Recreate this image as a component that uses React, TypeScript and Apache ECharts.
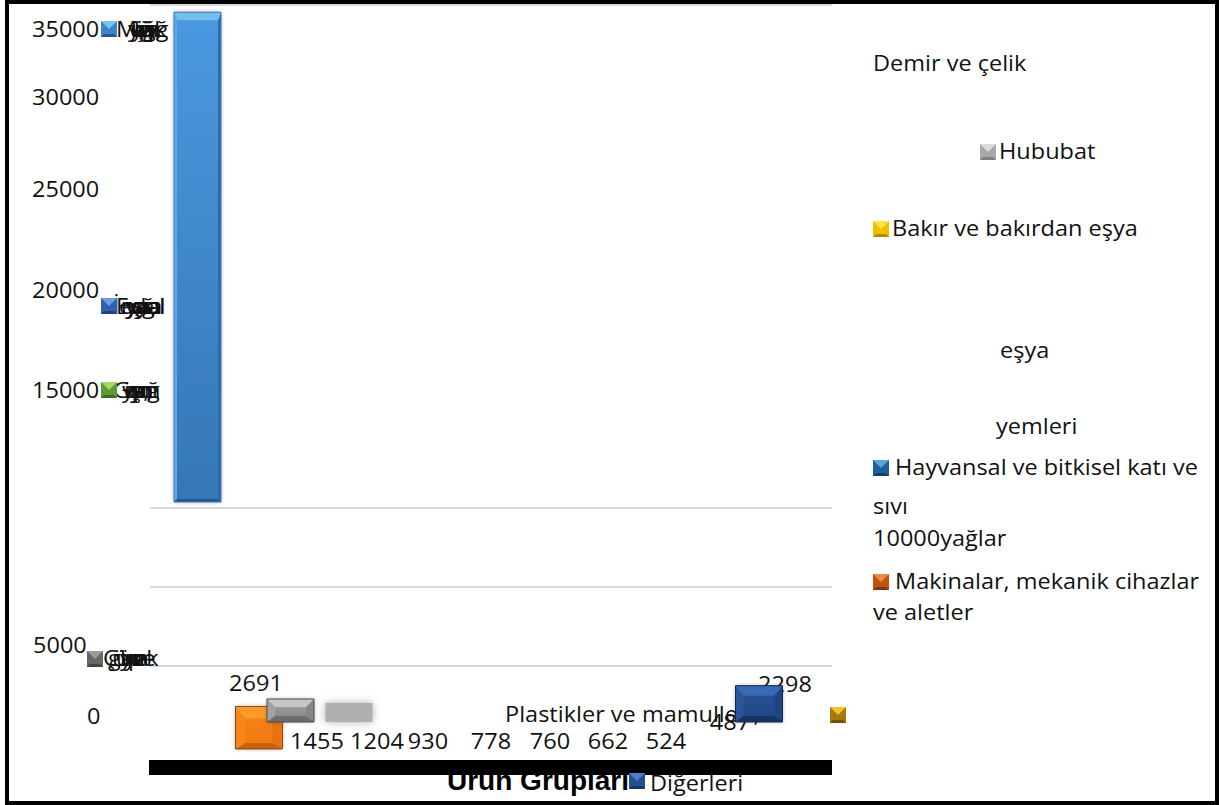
import React, { useEffect, useRef } from "react";
import * as echarts from "echarts";

const categories = [
  "Mineral yakıtlar", "Makinalar, mekanik cihazlar ve aletler", "Demir ve çelik", "Hububat",
  "Bakır ve bakırdan eşya", "Demir veya çelikten eşya", "Hayvan yemleri",
  "Hayvansal ve bitkisel katı ve sıvı yağlar", "Giyim eşyası", "Plastikler ve mamulleri", "Diğerleri",
];
const values = [31000, 2691, 1455, 1204, 930, 778, 760, 662, 524, 487, 2298];
const valueLabels = ["", "2691", "1455", "1204", "930", "778", "760", "662", "524", "487", "2298"];
const gridValues = [5000, 10000, 15000, 46835];
const AXIS_MAX = 46835;

// the picture's displaced bars: offset of each bar and its label from its natural slot
const barVisible = [1, 1, 1, 1, 0, 0, 0, 0, 0, 0, 1];
const barDx = [16.5, 16, -14.5, -18, 0, 0, 0, 0, 0, 0, -42];
const barLift = [15380, -253, 1456, 1456, 0, 0, 0, 0, 0, 0, 1456];
const labelDx = [0, 13, 12, 10, -1, 0, -3, -7, -11, -9, -16];
const labelDy = [0, -62, -4, -4, -4, -4, -4, -4, -4, -23, -61];
const blue = { top: "#74bdf0", left: "#5fa8e8", right: "#2f6aa6", bottom: "#25598c", line: "#3f78b4", a: "#4b98e0", b: "#3477b5", depth: 8, side: 3 };
const orange = { top: "#fd9a2c", left: "#f6851a", right: "#e8720f", bottom: "#c9620d", line: "#8a4a14", a: "#f78416", b: "#f07810", depth: 12, side: 10 };
const grey = { top: "#c6c6c6", left: "#a2a2a2", right: "#868686", bottom: "#6c6c6c", line: "#4e4e4e", a: "#a2a2a2", b: "#848484", depth: 8, side: 8 };
const navy = { top: "#3a68b2", left: "#2a5599", right: "#1e4580", bottom: "#163463", line: "#10294e", a: "#2a5499", b: "#1e4684", depth: 10, side: 8 };
const palettes: any[] = [blue, orange, grey, grey, grey, grey, grey, grey, grey, grey, navy];

const FONT = "'Open Sans'";
const FS = 21;
const STRETCH = 1.12;

const axisTexts = [
  { t: "35000", x: 32, y: 29 },
  { t: "30000", x: 32, y: 97 },
  { t: "25000", x: 32, y: 189 },
  { t: "20000", x: 32, y: 290 },
  { t: "15000", x: 32, y: 390 },
  { t: "5000", x: 33, y: 645 },
  { t: "0", x: 87, y: 716 },
];
const legendTexts = [
  { t: "Demir ve çelik", x: 873, y: 63 },
  { t: "Hububat", x: 999, y: 151 },
  { t: "Bakır ve bakırdan eşya", x: 892, y: 228 },
  { t: "eşya", x: 1000, y: 350 },
  { t: "yemleri", x: 996, y: 426 },
  { t: "Hayvansal ve bitkisel katı ve", x: 895, y: 467 },
  { t: "sıvı", x: 873, y: 506 },
  { t: "10000yağlar", x: 873, y: 538 },
  { t: "Makinalar, mekanik cihazlar", x: 895, y: 581 },
  { t: "ve aletler", x: 873, y: 612 },
  { t: "Plastikler ve mamulleri,", x: 505, y: 714 },
];
const swatches = [
  { x: 101, y: 21, top: "#7cc2f2", mid: "#3d85c8", bot: "#23598f" },
  { x: 101, y: 298, top: "#6f9be0", mid: "#3560b0", bot: "#20407c" },
  { x: 101, y: 382, top: "#a6d86a", mid: "#5f9a32", bot: "#3f6b1e" },
  { x: 87, y: 651, top: "#9a9a9a", mid: "#666666", bot: "#444444" },
  { x: 980, y: 144, top: "#dddddd", mid: "#a8a8a8", bot: "#808080" },
  { x: 873, y: 221, top: "#ffe14d", mid: "#f0bf00", bot: "#b08a00" },
  { x: 873, y: 460, top: "#58a5dd", mid: "#1f5f9c", bot: "#163f68" },
  { x: 873, y: 574, top: "#f08a3c", mid: "#c2530f", bot: "#7f360c" },
  { x: 830, y: 707, top: "#f2c230", mid: "#a57808", bot: "#6f5006" },
];
const overprints = [
  { y: 29, items: [["M", 116], ["ü", 130], ["ç", 134], ["ay", 133], ["ığ", 137], ["üş,", 130], ["yağ", 131], ["lük", 134], ["ğı", 140], ["ya", 128]] },
  { y: 306, items: [["İ", 113], ["Ev", 116], ["eş", 119], ["ya", 125], ["çı", 130], ["ya", 136], ["dal", 132], ["ğı", 142], ["ca", 138], ["ya,", 126], ["na", 121], ["el", 146]] },
  { y: 390, items: [["G", 113], ["iy", 124], ["çı", 128], ["ın", 133], ["ış,", 126], ["ağ", 134], ["ın", 140], ["ya,", 122], ["ım", 130], ["an", 126]] },
  { y: 658, items: [["Ç", 103], ["gı", 108], ["ür", 112], ["ün", 116], ["kı", 120], ["ya", 124], ["pe", 128], ["ek", 133], ["ya", 120], ["ın", 128]] },
];

function bevel(x: number, y: number, w: number, h: number, p: any, z2 = 0) {
  const r = x + w, d = y + h, t = p.depth, s = p.side, u = Math.min(p.side, 6);
  const fill = { type: "linear", x: 0, y: 0, x2: 0, y2: 1, colorStops: [{ offset: 0, color: p.a }, { offset: 1, color: p.b }] };
  const poly = (pts: number[][], c: string) => ({ type: "polygon", z2, shape: { points: pts }, style: { fill: c } });
  return [
    { type: "rect", z2, shape: { x, y, width: w, height: h }, style: { fill, shadowBlur: 4, shadowColor: "rgba(0,0,0,0.3)" } },
    poly([[x, y], [x + s, y + t], [x + s, d - u], [x, d]], p.left),
    poly([[r, y], [r - s, y + t], [r - s, d - u], [r, d]], p.right),
    poly([[x, d], [x + s, d - u], [r - s, d - u], [r, d]], p.bottom),
    poly([[x, y], [r, y], [r - s, y + t], [x + s, y + t]], p.top),
    { type: "rect", z2, shape: { x, y, width: w, height: h }, style: { fill: "none", stroke: p.line, lineWidth: 1 } },
  ];
}

const BAR_W = 47;
function renderItem(_params: any, api: any) {
  const i = api.value(0);
  const v = api.value(1);
  const children: any[] = [];
  const zero = api.coord([i, 0]);
  if (valueLabels[i]) {
    children.push({
      type: "text", z2: 1,
      x: zero[0] + labelDx[i], y: zero[1] + labelDy[i], scaleX: STRETCH,
      style: {
        text: valueLabels[i],
        fontFamily: FONT, fontSize: FS, fill: "#111", align: "center", verticalAlign: "middle",
      },
    });
  }
  if (barVisible[i]) {
    const lo = api.coord([i, barLift[i]]);
    const hi = api.coord([i, barLift[i] + v]);
    const x = lo[0] + barDx[i] - BAR_W / 2;
    if (i === 3) {
      children.push({
        type: "rect", z2: 2,
        shape: { x, y: hi[1], width: BAR_W, height: lo[1] - hi[1] },
        style: { fill: "#b0b0b0", shadowBlur: 8, shadowColor: "#b0b0b0" },
      });
    } else {
      children.push(...bevel(x, hi[1], BAR_W, lo[1] - hi[1], palettes[i], 2));
    }
  }
  return { type: "group", children };
}

function swatchEl(s: any, z: number) {
  const S = 16, b = 5;
  const { x, y } = s;
  return {
    type: "group", z,
    children: [
      { type: "rect", z, shape: { x, y, width: S, height: S }, style: { fill: s.mid } },
      { type: "polygon", z, shape: { points: [[x, y], [x + S, y], [x + S / 2, y + b + 3]] }, style: { fill: s.top } },
      { type: "polygon", z, shape: { points: [[x, y + S], [x + S, y + S], [x + S - 3, y + S - 3], [x + 3, y + S - 3]] }, style: { fill: s.bot } },
    ],
  };
}

const textEl = (t: string, x: number, y: number, z: number, extra: any = {}, scaleX = STRETCH) => ({
  type: "text", z, x, y, scaleX,
  style: { text: t, fontFamily: FONT, fontSize: FS, fill: "#111", verticalAlign: "middle", ...extra },
});

export default function App() {
  const ref = useRef<HTMLDivElement>(null);
  useEffect(() => {
    document.body.style.margin = "0";
    const chart = echarts.init(ref.current!, null, { renderer: "svg" });
    chart.setOption({
      animation: false,
      backgroundColor: "#fff",
      grid: { left: 150, right: 387, top: 5, bottom: 60 },
      xAxis: { type: "category", data: categories, show: false },
      yAxis: { type: "value", min: 0, max: AXIS_MAX, show: false, splitLine: { show: false } },
      series: [
        {
          type: "custom",
          z: 5,
          renderItem,
          data: values.map((v, i) => [i, v]),
          encode: { x: 0, y: 1 },
          markLine: {
            silent: true,
            symbol: "none",
            animation: false,
            label: { show: false },
            lineStyle: { color: "#d9d9d9", width: 2, type: "solid" },
            data: gridValues.map((v) => ({ yAxis: v })),
            z: 1,
          },
        },
      ],
      graphic: [
        { type: "rect", z: 100, shape: { x: 7, y: 2, width: 1210, height: 801 }, style: { fill: "none", stroke: "#000", lineWidth: 4 } },
        ...axisTexts.map((a) => textEl(a.t, a.x, a.y, 3)),
        ...legendTexts.map((a) => textEl(a.t, a.x, a.y, 3)),
        ...overprints.flatMap((r) => r.items.map(([t, x]) => textEl(t as string, x as number, r.y, 3))),
        ...swatches.map((s) => swatchEl(s, 20)),
        textEl("Ürün Grupları", 447, 780, 30, { fontFamily: "'Liberation Sans'", fontWeight: "bold", fontSize: 28, fill: "#000" }, 1),
        textEl("Diğerleri", 650, 783, 30),
        { type: "rect", z: 40, shape: { x: 149, y: 760, width: 683, height: 15 }, style: { fill: "#000" } },
        swatchEl({ x: 629, y: 773, top: "#4f7fc8", mid: "#234f90", bot: "#163562" }, 50),
      ],
    });
    return () => chart.dispose();
  }, []);
  return <div ref={ref} style={{ width: 1219, height: 805 }} />;
}
